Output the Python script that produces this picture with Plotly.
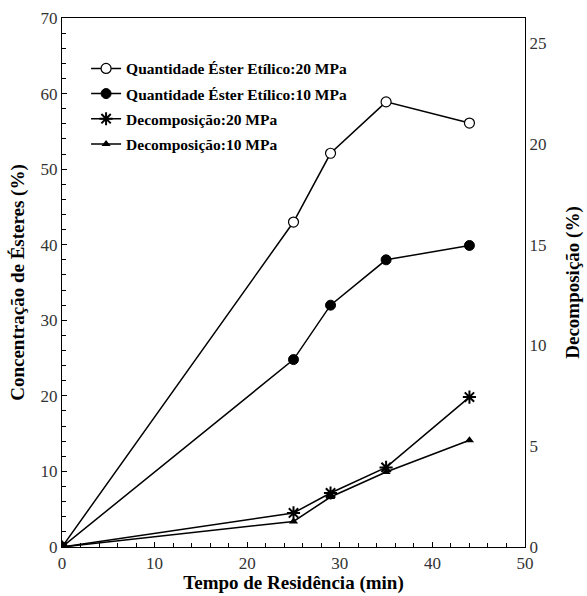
import plotly.graph_objects as go

# Residence time (min)
tempo = [0, 25, 29, 35, 44]

# Ester concentration (%) - left axis
ester_20mpa = [0, 43.0, 52.1, 58.9, 56.1]
ester_10mpa = [0, 24.8, 32.0, 38.0, 39.9]

# Decomposition (%) - right axis
decomp_20mpa = [0, 1.69, 2.68, 3.95, 7.44]
decomp_10mpa = [0, 1.27, 2.48, 3.72, 5.3]

serif = "Liberation Serif, Times New Roman, serif"
line = dict(color="black", width=1.5)

fig = go.Figure()
fig.add_trace(go.Scatter(
    x=tempo, y=ester_20mpa, name="Quantidade Éster Etílico:20 MPa", legendgroup="a",
    mode="lines+markers", line=line,
    marker=dict(symbol="circle", size=10, color="white", line=dict(color="black", width=1.2)),
))
fig.add_trace(go.Scatter(
    x=tempo, y=ester_10mpa, name="Quantidade Éster Etílico:10 MPa", legendgroup="b",
    mode="lines+markers", line=line,
    marker=dict(symbol="circle", size=10, color="black", line=dict(color="black", width=1)),
))
fig.add_trace(go.Scatter(
    x=tempo, y=decomp_20mpa, name="Decomposição:20 MPa", legendgroup="c", yaxis="y2",
    mode="lines+markers", line=line,
    marker=dict(symbol="asterisk-open", size=11, color="black", line=dict(color="black", width=2)),
))
fig.add_trace(go.Scatter(
    x=tempo, y=decomp_10mpa, name="Decomposição:10 MPa", legendgroup="d", yaxis="y2",
    mode="lines+markers", line=line,
    marker=dict(symbol="triangle-up", size=8, color="black"),
))

fig.update_layout(
    width=587, height=596,
    margin=dict(l=62, r=62, t=18, b=49),
    paper_bgcolor="white", plot_bgcolor="white",
    showlegend=True,
    legend=dict(
        x=0.052, y=0.936, xanchor="left", yanchor="top",
        bgcolor="rgba(0,0,0,0)", borderwidth=0,
        font=dict(family=serif, size=15.5, color="black", weight="bold"),
        tracegroupgap=2, itemwidth=30,
    ),
    xaxis=dict(
        range=[0, 50], dtick=10, showgrid=False, zeroline=False, automargin=False,
        showline=True, linecolor="black", linewidth=1.2, mirror=True,
        ticks="inside", ticklen=5, tickcolor="black",
        minor=dict(dtick=2, ticks="inside", ticklen=4, tickcolor="black"),
        tickfont=dict(family=serif, size=17, color="#333"),
        title=dict(text="Tempo de Residência (min)", standoff=2,
                   font=dict(family=serif, size=19, color="black", weight="bold")),
    ),
    yaxis=dict(
        range=[0, 70], dtick=10, showgrid=False, zeroline=False, automargin=False,
        showline=True, linecolor="black", linewidth=1.2,
        ticks="inside", ticklen=5, tickcolor="black",
        minor=dict(dtick=2, ticks="inside", ticklen=4, tickcolor="black"),
        tickfont=dict(family=serif, size=17, color="#333"),
        title=dict(text="Concentração de Ésteres (%)", standoff=10,
                   font=dict(family=serif, size=19, color="black", weight="bold")),
    ),
    yaxis2=dict(
        range=[0, 26.25], dtick=5, overlaying="y", side="right", automargin=False,
        showgrid=False, zeroline=False,
        showline=True, linecolor="black", linewidth=1.2,
        ticks="",
        tickfont=dict(family=serif, size=17, color="#333"),
        title=dict(text="Decomposição (%)", standoff=20,
                   font=dict(family=serif, size=19, color="black", weight="bold")),
    ),
)

fig.write_html("out.html")
